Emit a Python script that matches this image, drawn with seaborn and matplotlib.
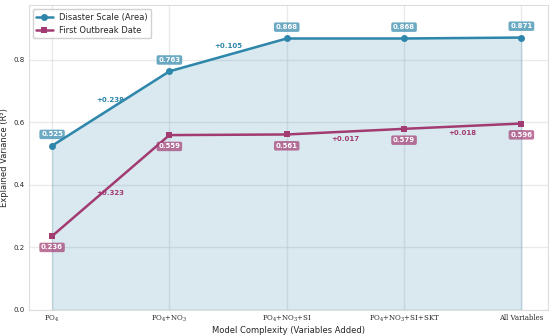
import numpy as np
import pandas as pd
import seaborn as sns
import matplotlib.pyplot as plt

# data
steps = ['PO$_4$', 'PO$_4$+NO$_3$', 'PO$_4$+NO$_3$+SI', 'PO$_4$+NO$_3$+SI+SKT', 'All Variables']
disaster_r2 = [0.525, 0.763, 0.868, 0.868, 0.871]
outbreak_r2 = [0.236, 0.559, 0.561, 0.579, 0.596]
# increments printed on the chart (None = not shown)
disaster_gain = ['+0.238', '+0.105', None, None]
outbreak_gain = ['+0.323', None, '+0.017', '+0.018']

blue = '#2E86AB'
purple = '#A23B72'

df = pd.DataFrame({
    'step': np.arange(len(steps)),
    'Disaster Scale (Area)': disaster_r2,
    'First Outbreak Date': outbreak_r2,
})

sns.set_theme(style='whitegrid')
plt.rcParams['font.family'] = ['DejaVu Sans']
plt.rcParams['mathtext.fontset'] = 'dejavuserif'

fig, ax = plt.subplots(figsize=(5.5, 3.35), dpi=100)

ax.fill_between(df['step'], 0, df['Disaster Scale (Area)'], color=blue, alpha=0.18, zorder=1)
sns.lineplot(data=df, x='step', y='Disaster Scale (Area)', ax=ax, color=blue, marker='o',
             markersize=5, linewidth=1.8, markeredgewidth=0, label='Disaster Scale (Area)', zorder=3)
sns.lineplot(data=df, x='step', y='First Outbreak Date', ax=ax, color=purple, marker='s',
             markersize=5, linewidth=1.8, markeredgewidth=0, label='First Outbreak Date', zorder=3)

# value boxes
for i, v in enumerate(disaster_r2):
    ax.annotate(f'{v:.3f}', (i, v), xytext=(0, 6), textcoords='offset points', ha='center', va='bottom',
                fontsize=5, color='white', fontweight='bold',
                bbox=dict(boxstyle='round,pad=0.25', fc=blue, ec='none', alpha=0.7), zorder=5)
for i, v in enumerate(outbreak_r2):
    ax.annotate(f'{v:.3f}', (i, v), xytext=(0, -6), textcoords='offset points', ha='center', va='top',
                fontsize=5, color='white', fontweight='bold',
                bbox=dict(boxstyle='round,pad=0.25', fc=purple, ec='none', alpha=0.7), zorder=5)

# increments between steps
for i in range(1, len(steps)):
    if disaster_gain[i - 1]:
        ax.annotate(disaster_gain[i - 1], (i - 0.5, (disaster_r2[i] + disaster_r2[i - 1]) / 2),
                    xytext=(0, 4), textcoords='offset points', ha='center', va='bottom',
                    fontsize=5, color=blue, fontweight='bold')
    if outbreak_gain[i - 1]:
        ax.annotate(outbreak_gain[i - 1], (i - 0.5, (outbreak_r2[i] + outbreak_r2[i - 1]) / 2),
                    xytext=(0, -3), textcoords='offset points', ha='center', va='top',
                    fontsize=5, color=purple, fontweight='bold')

ax.set_xticks(df['step'])
ax.set_xticklabels(steps, fontsize=5, fontfamily='DejaVu Serif')
ax.tick_params(axis='both', labelsize=5, length=0, pad=3)
ax.set_xlim(-0.2, 4.23)
ax.set_ylim(0, 0.975)
ax.set_xlabel('Model Complexity (Variables Added)', fontsize=6, labelpad=1)
ax.set_ylabel('Explained Variance (R²)', fontsize=6, labelpad=3)
ax.grid(alpha=0.4)
for s in ax.spines.values():
    s.set_color('#dddddd')
    s.set_linewidth(0.8)
ax.legend(loc='upper left', fontsize=6, frameon=True, framealpha=0.9)

plt.subplots_adjust(left=0.052, right=0.997, top=0.985, bottom=0.075)
plt.savefig('out.png', dpi=100)
